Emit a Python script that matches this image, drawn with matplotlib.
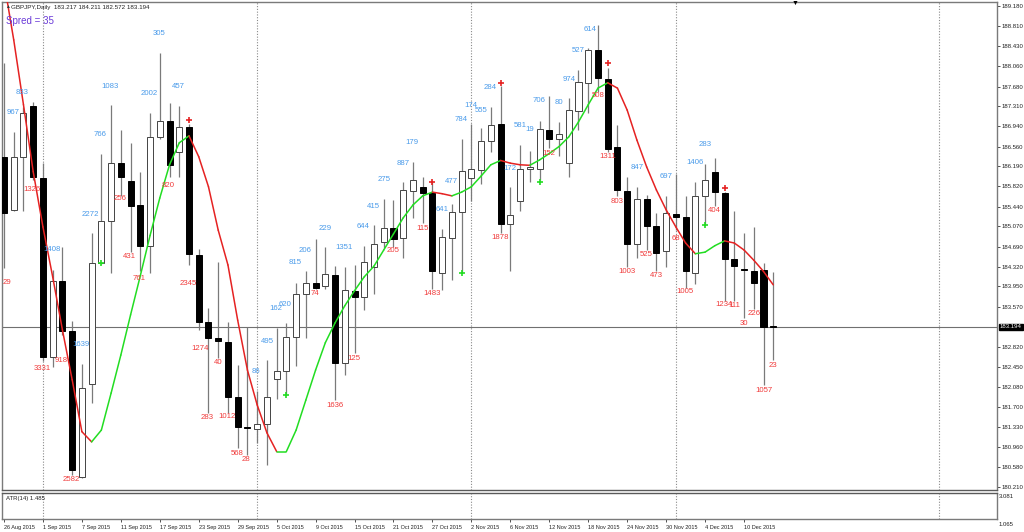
import matplotlib
matplotlib.use("Agg")
import matplotlib.pyplot as plt
import matplotlib.transforms as mtransforms
import numpy as np

plt.rcParams['font.family'] = ['Liberation Sans', 'DejaVu Sans']

# ---------------- data ----------------
opens = [186.37, 185.38, 186.37, 187.32, 185.97, 182.64, 184.05, 183.12, 180.40, 182.13,
         184.38, 185.17, 186.26, 185.91, 185.47, 184.71, 186.73, 187.04, 186.45, 186.92,
         184.54, 183.28, 182.98, 182.92, 181.89, 181.33, 181.29, 181.38, 182.22, 182.38,
         183.00, 183.81, 184.01, 183.96, 184.17, 182.52, 183.87, 183.75, 184.32, 184.77,
         185.04, 184.85, 185.74, 185.81, 185.70, 184.21, 184.86, 185.33, 185.97, 186.12,
         186.67, 186.99, 185.11, 185.55, 186.14, 186.15, 186.86, 186.71, 186.25, 187.23,
         187.75, 188.36, 187.82, 186.55, 185.73, 184.74, 185.59, 185.07, 184.62, 185.30,
         185.25, 184.21, 185.64, 186.09, 185.69, 184.46, 184.28, 184.24, 184.26, 183.217]
highs = [188.12, 186.83, 187.30, 187.40, 186.25, 184.26, 184.69, 183.31, 182.50, 184.94,
         186.42, 187.33, 186.86, 186.63, 186.09, 187.19, 188.30, 187.37, 187.32, 186.99,
         184.64, 183.54, 184.41, 183.29, 182.49, 183.20, 181.99, 182.57, 183.17, 183.26,
         184.02, 184.24, 184.83, 184.68, 184.33, 184.32, 184.35, 184.71, 185.09, 185.58,
         185.56, 185.89, 186.27, 186.00, 185.89, 185.02, 185.49, 186.71, 186.99, 186.90,
         187.30, 187.69, 185.80, 186.59, 186.48, 187.04, 187.51, 187.02, 187.46, 187.98,
         188.40, 188.83, 188.02, 186.96, 185.99, 185.80, 185.66, 185.32, 185.64, 186.05,
         185.63, 185.89, 186.24, 186.34, 185.72, 185.36, 184.95, 185.05, 184.38, 184.211]
lows = [184.30, 185.36, 185.36, 185.94, 182.55, 182.45, 183.05, 180.43, 180.38, 181.77,
        184.36, 184.21, 185.63, 184.60, 184.23, 184.21, 186.70, 186.00, 186.00, 184.35,
        183.14, 181.58, 182.61, 181.59, 180.93, 180.81, 181.02, 180.62, 181.85, 181.93,
        182.47, 182.98, 183.90, 183.90, 181.83, 182.30, 182.70, 183.51, 183.81, 184.66,
        184.69, 184.48, 185.22, 185.14, 183.90, 183.88, 184.07, 184.20, 185.55, 185.86,
        186.46, 184.94, 184.24, 185.35, 185.89, 185.94, 186.53, 186.38, 186.00, 186.86,
        187.19, 187.58, 186.45, 185.63, 184.32, 184.48, 184.63, 184.24, 184.31, 185.00,
        183.93, 184.00, 185.12, 185.45, 183.67, 183.67, 183.36, 183.52, 182.11, 182.572]
closes = [185.32, 186.37, 187.19, 185.99, 182.63, 184.05, 183.12, 180.53, 182.05, 184.39,
          185.18, 186.26, 186.00, 185.46, 184.71, 186.73, 187.03, 186.22, 186.92, 184.56,
          183.28, 182.98, 182.94, 181.89, 181.32, 181.31, 181.38, 181.88, 182.38, 183.00,
          183.81, 184.01, 183.93, 184.18, 182.52, 183.88, 183.75, 184.40, 184.74, 185.04,
          184.83, 185.75, 185.94, 185.70, 184.23, 184.87, 185.33, 186.11, 186.14, 186.67,
          186.96, 185.11, 185.28, 186.14, 186.17, 186.88, 186.71, 186.79, 187.24, 187.76,
          188.36, 187.83, 186.51, 185.75, 184.74, 185.58, 185.07, 184.58, 185.32, 185.24,
          184.24, 185.63, 185.94, 185.71, 184.46, 184.33, 184.25, 184.01, 183.20, 183.194]

trend_line = [189.63, 188.55, 187.34, 186.09, 185.06, 184.13, 183.14, 182.21, 181.24, 181.05,
              181.27, 181.96, 182.67, 183.42, 184.15, 184.90, 185.60, 186.22, 186.63, 186.76,
              186.37, 185.81, 185.00, 184.35, 183.32, 182.39, 181.74, 181.22, 180.87, 180.87,
              181.27, 181.83, 182.39, 182.90, 183.27, 183.59, 183.87, 184.13, 184.33, 184.63,
              184.93, 185.23, 185.47, 185.64, 185.71, 185.68, 185.64, 185.71, 185.81, 186.01,
              186.22, 186.30, 186.25, 186.22, 186.21, 186.31, 186.43, 186.56, 186.74, 187.02,
              187.34, 187.65, 187.75, 187.65, 187.24, 186.68, 186.18, 185.75, 185.38, 185.06,
              184.76, 184.56, 184.59, 184.71, 184.80, 184.76, 184.63, 184.44, 184.23, 183.98]

sell_arrow_bars = [19, 44, 51, 62, 74]
sell_arrow_prices = [187.05, 185.90, 187.74, 188.12, 185.79]
buy_arrow_bars = [10, 29, 47, 55, 72]
buy_arrow_prices = [184.39, 181.93, 184.20, 185.90, 185.10]

blue_texts = ["967", "833", "1408", "1639", "2272", "766", "1083", "2002", "305", "457",
              "86", "495", "162", "620", "815", "206", "229", "1351", "644", "415",
              "275", "887", "179", "641", "477", "784", "174", "555", "284", "172",
              "581", "19", "706", "80", "974", "527", "614", "847", "697", "1406", "283"]
blue_bars = [0.9, 1.9, 4.9, 7.9, 8.9, 9.9, 10.9, 14.9, 15.9, 17.9,
             25.9, 27.0, 27.9, 28.9, 29.9, 30.9, 32.97, 34.95, 36.9, 37.97,
             39.0, 40.95, 41.9, 44.95, 45.98, 46.9, 47.96, 48.95, 49.9, 52.0,
             53.0, 54.0, 54.98, 57.0, 58.0, 59.0, 60.2, 65.0, 68.0, 70.97, 72.0]
blue_prices = [187.19, 187.57, 184.63, 182.86, 185.30, 186.79, 187.68, 187.55, 188.66, 187.68,
               182.36, 182.92, 183.54, 183.62, 184.39, 184.62, 185.04, 184.68, 185.07, 185.45,
               185.94, 186.25, 186.63, 185.39, 185.90, 187.07, 187.32, 187.24, 187.67, 186.15,
               186.96, 186.87, 187.42, 187.39, 187.82, 188.35, 188.75, 186.17, 186.01, 186.26, 186.60]

red_texts = ["29", "1326", "3331", "918", "2582", "256", "431", "761", "820", "2345",
             "1274", "283", "40", "1012", "568", "28", "74", "1636", "125", "205",
             "115", "1483", "1878", "152", "508", "1311", "803", "1003", "525", "473",
             "68", "1005", "404", "1234", "111", "30", "226", "1057", "23"]
red_bars = [0.34, 2.9, 3.9, 5.9, 6.9, 11.9, 12.9, 13.9, 16.9, 18.9,
            20.1, 20.9, 21.95, 22.9, 23.9, 24.9, 31.9, 34.0, 35.98, 39.98,
            42.96, 43.96, 50.9, 56.0, 60.97, 62.0, 63.0, 64.0, 66.0, 67.0,
            68.98, 69.97, 73.0, 73.9, 75.0, 76.0, 77.0, 78.0, 79.0]
red_prices = [184.02, 185.75, 182.42, 182.57, 180.34, 185.59, 184.51, 184.10, 185.83, 184.00,
              182.80, 181.51, 182.53, 181.52, 180.84, 180.73, 183.81, 181.72, 182.61, 184.62,
              185.04, 183.82, 184.86, 186.43, 187.52, 186.37, 185.54, 184.23, 184.54, 184.15,
              184.85, 183.85, 185.36, 183.62, 183.59, 183.26, 183.45, 182.01, 182.47]

price_ticks = [189.180, 188.810, 188.430, 188.060, 187.680, 187.310, 186.940, 186.560,
               186.190, 185.820, 185.440, 185.070, 184.690, 184.320, 183.950, 183.570,
               182.820, 182.450, 182.080, 181.700, 181.330, 180.960, 180.580, 180.210]
date_labels = ["26 Aug 2015", "1 Sep 2015", "7 Sep 2015", "11 Sep 2015", "17 Sep 2015",
               "23 Sep 2015", "29 Sep 2015", "5 Oct 2015", "9 Oct 2015", "15 Oct 2015",
               "21 Oct 2015", "27 Oct 2015", "2 Nov 2015", "6 Nov 2015", "12 Nov 2015",
               "18 Nov 2015", "24 Nov 2015", "30 Nov 2015", "4 Dec 2015", "10 Dec 2015"]
date_label_bars = list(range(0, 80, 4))
grid_bars = [4, 26, 48, 69, 96]

symbol = "GBPJPY,Daily"
last_ohlc = [183.217, 184.211, 182.572, 183.194]
spread = 35
atr_value = 1.485
atr_scale = ["3.081", "1.065"]

# ---------------- figure ----------------
W, H = 1024, 532
fig = plt.figure(figsize=(W / 100, H / 100), dpi=100)
fig.patch.set_facecolor('white')

def fx(px):
    return px / W

def fy(py):
    return 1 - py / H

ax = fig.add_axes([fx(2), fy(490), fx(997) - fx(2), fy(2) - fy(490)])
ax_atr = fig.add_axes([fx(2), fy(519), fx(997) - fx(2), fy(493) - fy(519)])

xlim = (-0.205, 101.98)
ax.set_xlim(*xlim)
ax.set_ylim(180.152, 189.257)
ax_atr.set_xlim(*xlim)
ax_atr.set_ylim(0, 1)

n = len(opens)
xs = np.arange(n)
o = np.array(opens); c = np.array(closes); h = np.array(highs); l = np.array(lows)

# grid
for gb in grid_bars:
    ax.axvline(gb, color='#8a8a8a', lw=0.8, ls=(0, (1, 1.5)), zorder=0)
    ax_atr.axvline(gb, color='#8a8a8a', lw=0.8, ls=(0, (1, 1.5)), zorder=0)

# current price line
ax.axhline(last_ohlc[3], color='#707070', lw=0.8, zorder=1)

# wicks
ax.vlines(xs, l, h, color='#7a7a7a', lw=0.9, zorder=2)
# bodies
bull = c >= o
bottoms = np.minimum(o, c)
heights = np.maximum(np.abs(c - o), 0.012)
ax.bar(xs[bull], heights[bull], bottom=bottoms[bull], width=0.62,
       facecolor='white', edgecolor='#444444', linewidth=0.7, zorder=3)
ax.bar(xs[~bull], heights[~bull], bottom=bottoms[~bull], width=0.62,
       facecolor='black', edgecolor='black', linewidth=0.7, zorder=3)

# trend line coloured by direction
tl = np.array(trend_line)
for i in range(n - 1):
    col = '#22dd22' if tl[i + 1] >= tl[i] else '#e52222'
    ax.plot([xs[i], xs[i + 1]], [tl[i], tl[i + 1]], color=col, lw=1.1,
            solid_capstyle='round', zorder=4)

# arrows
ax.plot(sell_arrow_bars, sell_arrow_prices, ls='none', marker='+', ms=4.5,
        mew=1.2, color='#e52222', zorder=5)
ax.plot(buy_arrow_bars, buy_arrow_prices, ls='none', marker='+', ms=4.5,
        mew=1.2, color='#22dd22', zorder=5)

# labels
for t, b, p in zip(blue_texts, blue_bars, blue_prices):
    ax.text(b, p, t, color='#4a9bea', fontsize=5.6, ha='center', va='center', zorder=6)
for t, b, p in zip(red_texts, red_bars, red_prices):
    ax.text(b, p, t, color='#f03a3a', fontsize=5.6, ha='center', va='center', zorder=6)

# right axis
ax.yaxis.tick_right()
ax.set_yticks(price_ticks)
ax.set_yticklabels([f"{v:.3f}" for v in price_ticks])
ax.tick_params(axis='y', labelsize=4.3, length=2, width=0.6, pad=1.5,
               colors='#333333', labelcolor='#222222')
ax.set_xticks([])
trans = mtransforms.blended_transform_factory(ax.transAxes, ax.transData)
ax.text(1.003, last_ohlc[3], f"{last_ohlc[3]:.3f}", transform=trans, fontsize=4.3,
        color='white', ha='left', va='center',
        bbox=dict(boxstyle='square,pad=0.15', facecolor='black', edgecolor='black'))

for sp in ax.spines.values():
    sp.set_color('#7a7a7a')
    sp.set_linewidth(1.0)
ax.spines['bottom'].set_color('#5a5a5a')
for sp in ax_atr.spines.values():
    sp.set_color('#7a7a7a')
    sp.set_linewidth(1.0)
ax_atr.spines['top'].set_color('#5a5a5a')

# ATR panel
ax_atr.set_yticks([])
ax_atr.set_xticks(date_label_bars)
ax_atr.set_xticklabels(date_labels, ha='left')
ax_atr.tick_params(axis='x', labelsize=4.0, length=2, width=0.6, pad=2,
                   colors='#333333', labelcolor='#222222')
for lbl in ax_atr.get_xticklabels():
    lbl.set_horizontalalignment('left')
ax_atr.text(0.004, 0.8, f"ATR(14) {atr_value:.3f}", transform=ax_atr.transAxes,
            fontsize=4.3, color='#222222', ha='left', va='center')
fig.text(fx(999), fy(496), atr_scale[0], fontsize=4.3, color='#222222', ha='left', va='center')
fig.text(fx(999), fy(524), atr_scale[1], fontsize=4.3, color='#222222', ha='left', va='center')

# header
fig.text(fx(5), fy(7), "\u25B2", fontsize=3.5, color='#333333', ha='left', va='center')
fig.text(fx(11), fy(7), symbol + "  " + " ".join(f"{v:.3f}" for v in last_ohlc),
         fontsize=4.5, color='#222222', ha='left', va='center')
fig.text(fx(6), fy(21), f"Spred = {spread}", fontsize=7, color='#6a3ad8',
         ha='left', va='center')
fig.text(fx(795), fy(3), "\u25BC", fontsize=5, color='black', ha='center', va='center')

fig.savefig("out.png", dpi=100, facecolor='white')
